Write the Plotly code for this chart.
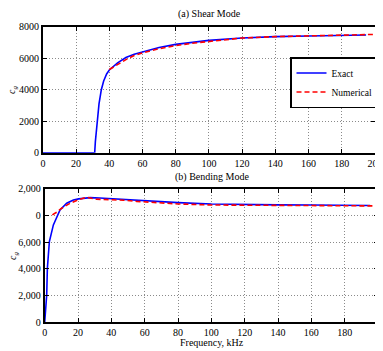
import plotly.graph_objects as go

# ---- (a) Shear mode ----
shear_exact_f = [0, 10, 20, 30, 31.2, 31.6, 32.2, 32.8, 33.8, 35.2, 36.6, 38.4, 40, 45, 50, 55, 60, 70, 80, 90, 100, 120, 140, 160, 180, 194.7]
shear_exact_cg = [0, 0, 0, 0, 0, 700, 1400, 2000, 3100, 4000, 4550, 5000, 5250, 5700, 6040, 6250, 6390, 6680, 6880, 7020, 7130, 7280, 7370, 7410, 7450, 7470]
shear_num_f = [40, 45, 50, 55, 60, 70, 80, 90, 100, 120, 140, 160, 180, 200]
shear_num_cg = [5280, 5620, 5910, 6170, 6340, 6600, 6800, 6950, 7070, 7280, 7370, 7430, 7470, 7510]

# ---- (b) Bending mode ----
bend_exact_f = [0, 0.4, 0.8, 1.2, 1.6, 2.8, 5.2, 7.2, 9.2, 13.2, 17.2, 20.4, 27.2, 33, 40.4, 50, 60.4, 80, 100, 120, 140, 160, 180, 195.3]
bend_exact_cg = [0, 800, 1500, 2045, 4045, 6040, 7290, 7910, 8410, 8910, 9160, 9240, 9330, 9300, 9240, 9170, 9100, 8960, 8860, 8810, 8790, 8780, 8760, 8740]
bend_num_f = [4.6, 7.2, 10.2, 15.2, 20.2, 25.2, 31.2, 37.2, 47.2, 55.2, 63.2, 80, 100, 120, 140, 160, 180, 200]
bend_num_cg = [8040, 8240, 8540, 8910, 9160, 9360, 9210, 9200, 9140, 9050, 8990, 8860, 8780, 8760, 8760, 8740, 8730, 8710]

x_ticks = [0, 20, 40, 60, 80, 100, 120, 140, 160, 180, 200]
top_y_ticks = [0, 2000, 4000, 6000, 8000]
top_y_labels = ["0", "2000", "4000", "6000", "8000"]
bot_y_ticks = [0, 2000, 4000, 6000, 8000, 10000]
bot_y_labels = ["0", "2,000", "4,000", "6,000", "0", "2,000"]

FONT = "Liberation Serif"
BLUE = "#0000ff"
RED = "#ff0000"
DASH = "5px,3px"

fig = go.Figure()
fig.add_trace(go.Scatter(x=shear_exact_f, y=shear_exact_cg, mode="lines", name="Exact",
                         line=dict(color=BLUE, width=1.6), xaxis="x", yaxis="y"))
fig.add_trace(go.Scatter(x=shear_num_f, y=shear_num_cg, mode="lines", name="Numerical",
                         line=dict(color=RED, width=1.6, dash=DASH), xaxis="x", yaxis="y"))
fig.add_trace(go.Scatter(x=bend_exact_f, y=bend_exact_cg, mode="lines", showlegend=False,
                         line=dict(color=BLUE, width=1.6), xaxis="x2", yaxis="y2"))
fig.add_trace(go.Scatter(x=bend_num_f, y=bend_num_cg, mode="lines", showlegend=False,
                         line=dict(color=RED, width=1.6, dash=DASH), xaxis="x2", yaxis="y2"))

# page body has an 8px default margin; figure is drawn inside it
OFF = 8
W, H = 383 - OFF, 351 - OFF


def fx(px):
    return (px - OFF) / W


def fy(py):
    return 1 - (py - OFF) / H


axis_common = dict(showline=True, linecolor="black", linewidth=2, mirror="ticks",
                   ticks="inside", ticklen=4, tickwidth=1, tickcolor="black",
                   showgrid=True, gridcolor="#8a8a8a", griddash="1px,2px", gridwidth=1,
                   zeroline=False, automargin=False,
                   tickfont=dict(family=FONT, size=10, color="black"))

fig.update_layout(
    width=W, height=H, margin=dict(l=0, r=0, t=0, b=0, autoexpand=False),
    paper_bgcolor="white", plot_bgcolor="white",
    font=dict(family=FONT, size=10, color="black"),
    xaxis=dict(domain=[fx(42.9), fx(374.9)], range=[0, 200], tickvals=x_ticks,
               anchor="y", **axis_common),
    yaxis=dict(domain=[fy(152.7), fy(26.7)], range=[0, 8000], tickvals=top_y_ticks,
               ticktext=top_y_labels, anchor="x", **axis_common),
    xaxis2=dict(domain=[fx(44.7), fx(378)], range=[0, 200], tickvals=x_ticks,
                anchor="y2", **axis_common),
    yaxis2=dict(domain=[fy(322.3), fy(188.7)], range=[0, 10000], tickvals=bot_y_ticks,
                ticktext=bot_y_labels, anchor="x2", **axis_common),
    legend=dict(x=fx(290), y=fy(57), xanchor="left", yanchor="top",
                bordercolor="black", borderwidth=1.5, bgcolor="white",
                font=dict(family=FONT, size=9.5, color="black"),
                tracegroupgap=0, itemwidth=30),
    showlegend=True,
)

ann = [
    dict(text="(a) Shear Mode", x=fx(210), y=fy(14)),
    dict(text="(b) Bending Mode", x=fx(212), y=fy(177)),
    dict(text="Frequency, kHz", x=fx(212), y=fy(342)),
]
for a in ann:
    fig.add_annotation(text=a["text"], x=a["x"], y=a["y"], xref="paper", yref="paper",
                       showarrow=False, xanchor="center", yanchor="middle",
                       font=dict(family=FONT, size=10, color="black"))
for yy in [fy(90), fy(256)]:
    fig.add_annotation(text="<i>c</i><sub><i>g</i></sub>", x=fx(13), y=yy, xref="paper", yref="paper",
                       showarrow=False, textangle=-90, xanchor="center", yanchor="middle",
                       font=dict(family=FONT, size=10, color="black"))

fig.write_html("out.html")
